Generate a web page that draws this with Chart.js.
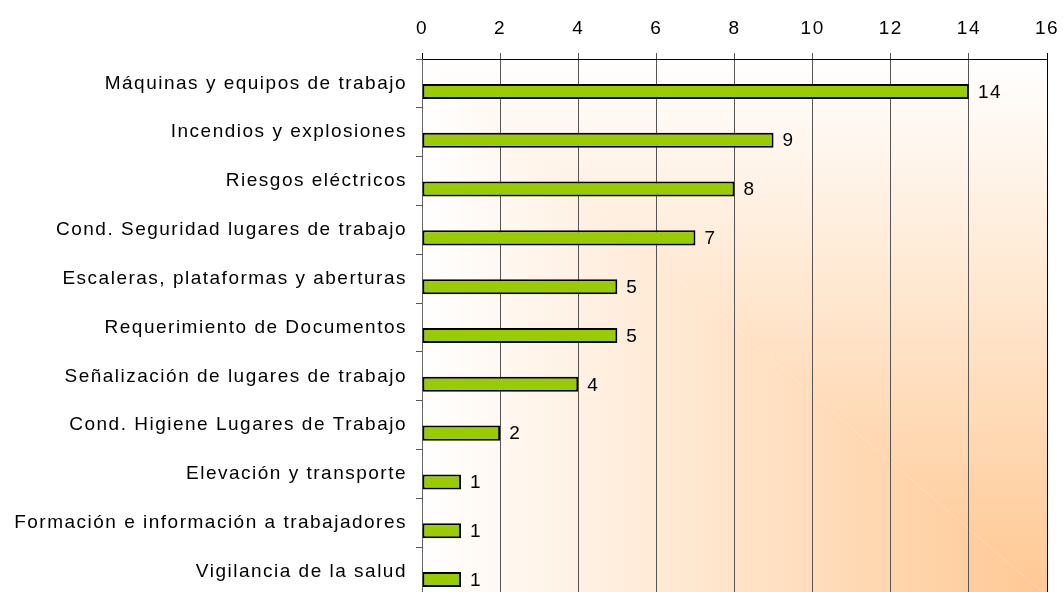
<!DOCTYPE html>
<html>
<head>
<meta charset="utf-8">
<script src="https://cdn.jsdelivr.net/npm/chart.js@4.4.1/dist/chart.umd.min.js"></script>
<style>
html,body{margin:0;padding:0;background:#fff;overflow:hidden;}
#wrap{width:1063px;height:600px;position:relative;}
</style>
</head>
<body>
<div id="wrap"><canvas id="c" width="1063" height="600"></canvas></div>
<script>
const categories = [
  "Máquinas y equipos de trabajo",
  "Incendios y explosiones",
  "Riesgos eléctricos",
  "Cond. Seguridad lugares de trabajo",
  "Escaleras, plataformas y aberturas",
  "Requerimiento de Documentos",
  "Señalización de lugares de trabajo",
  "Cond. Higiene Lugares de Trabajo",
  "Elevación y transporte",
  "Formación e información a trabajadores",
  "Vigilancia de la salud"
];
const values = [14, 9, 8, 7, 5, 5, 4, 2, 1, 1, 1];
const xTicks = [0, 2, 4, 6, 8, 10, 12, 14, 16];

const FONT = "'Liberation Sans', Arial, sans-serif";
const FSIZE = 19;
const SPACING = '1.5px';

const spacingPlugin = {
  id: 'letterSpacing',
  beforeInit(chart) { chart.ctx.letterSpacing = SPACING; },
  beforeLayout(chart) { chart.ctx.letterSpacing = SPACING; },
  beforeDraw(chart) { chart.ctx.letterSpacing = SPACING; }
};

const bgPlugin = {
  id: 'cornerGradient',
  beforeDraw(chart) {
    const {ctx, chartArea: a} = chart;
    const c0 = '#ffffff', c1 = '#ffc893';
    ctx.save();
    ctx.beginPath();
    ctx.moveTo(a.left, a.top); ctx.lineTo(a.right, a.top); ctx.lineTo(a.right, a.bottom); ctx.closePath();
    let g = ctx.createLinearGradient(0, a.top, 0, a.bottom);
    g.addColorStop(0, c0); g.addColorStop(1, c1);
    ctx.fillStyle = g; ctx.fill();
    ctx.beginPath();
    ctx.moveTo(a.left, a.top); ctx.lineTo(a.left, a.bottom); ctx.lineTo(a.right, a.bottom); ctx.closePath();
    g = ctx.createLinearGradient(a.left, 0, a.right, 0);
    g.addColorStop(0, c0); g.addColorStop(1, c1);
    ctx.fillStyle = g; ctx.fill();
    ctx.restore();
  }
};

const labelPlugin = {
  id: 'valueLabels',
  afterDatasetsDraw(chart) {
    const {ctx} = chart;
    const meta = chart.getDatasetMeta(1);
    ctx.save();
    ctx.letterSpacing = SPACING;
    ctx.font = FSIZE + 'px ' + FONT;
    ctx.fillStyle = '#000';
    ctx.textAlign = 'left';
    ctx.textBaseline = 'middle';
    meta.data.forEach((bar, i) => {
      ctx.fillText(String(values[i]), bar.x + 9, bar.y + 1);
    });
    ctx.restore();
  }
};

new Chart(document.getElementById('c'), {
  type: 'bar',
  data: {
    labels: categories,
    datasets: [
      { label: 'spacer', data: values.map(() => null), backgroundColor: 'rgba(0,0,0,0)' },
      {
        label: 'Requerimientos',
        data: values,
        backgroundColor: '#99cc00',
        borderColor: '#000000',
        borderWidth: 2,
        borderSkipped: false
      }
    ]
  },
  options: {
    indexAxis: 'y',
    responsive: false,
    animation: false,
    datasets: { bar: { categoryPercentage: 0.656, barPercentage: 0.94 } },
    layout: { padding: { left: 0, right: 16, top: 0, bottom: 4 } },
    plugins: { legend: { display: false }, tooltip: { enabled: false } },
    scales: {
      x: {
        position: 'top',
        min: 0, max: 16,
        afterBuildTicks(s) { s.ticks = xTicks.map(v => ({ value: v })); },
        afterFit(s) { s.height = 59; s.paddingLeft = 0; s.paddingRight = 0; },
        ticks: { font: { size: FSIZE, family: FONT }, color: '#000', padding: 13 },
        grid: {
          color: (c) => (c.tick && (c.tick.value === 16 || c.tick.value === 0)) ? '#000' : '#555',
          lineWidth: 1,
          tickLength: 6,
          drawTicks: true
        },
        border: { display: true, color: '#000', width: 1 }
      },
      y: {
        afterFit(s) { s.width = 422; s.paddingTop = 0; s.paddingBottom = 0; },
        ticks: { font: { size: FSIZE, family: FONT }, color: '#000', padding: 9, autoSkip: false },
        grid: { offset: true, drawOnChartArea: false, drawTicks: true, tickLength: 6, color: '#555' },
        border: { display: true, color: '#666', width: 1 }
      }
    }
  },
  plugins: [spacingPlugin, bgPlugin, labelPlugin]
});
</script>
</body>
</html>
